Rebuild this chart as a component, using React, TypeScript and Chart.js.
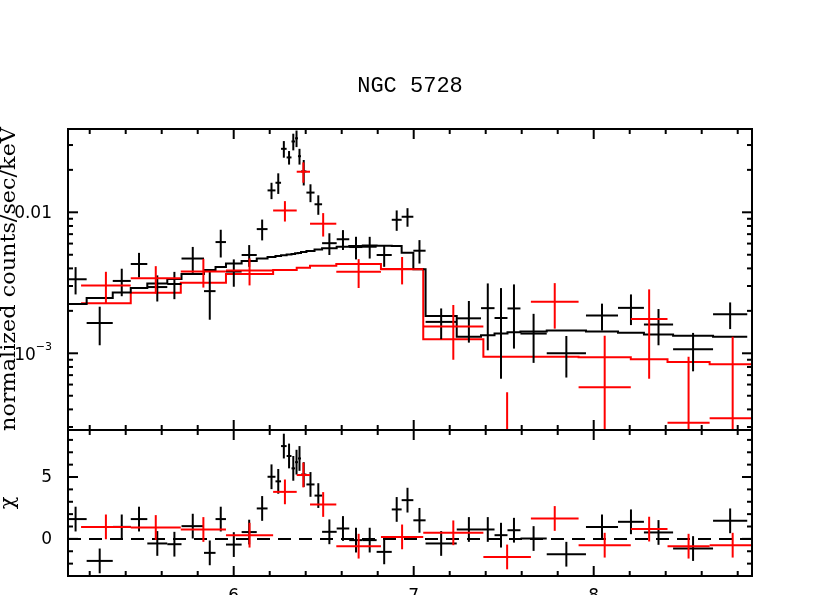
import React, { useEffect, useRef } from "react";
import { Chart, registerables } from "chart.js";
Chart.register(...registerables);

// ---------- text ----------
const TITLE = "NGC 5728";
const Y_TITLE = "normalized counts/sec/keV";
const CHI_TITLE = "χ";

// ---------- axes ----------
const X_RANGE = [5.0794, 8.8794]; // keV
const RATE_RANGE = [2.857e-4, 0.03898]; // counts/sec/keV (log)
const CHI_RANGE = [-3.0, 8.8];
const X_LABELS = [6, 7, 8];
const X_MINOR_STEP = 0.2;
const RATE_LABELS = [0.01, 0.001];
const CHI_LABELS = [0, 5];
const CHI_MINOR_STEP = 1;

// ---------- black spectrum ----------
const blackEdges = [5.06, 5.183, 5.328, 5.428, 5.52, 5.631, 5.71, 5.835, 5.899, 5.957, 6.044, 6.128, 6.188, 6.232, 6.263, 6.294, 6.321, 6.341, 6.357, 6.374, 6.404, 6.449, 6.491, 6.572, 6.642, 6.717, 6.794, 6.878, 6.933, 6.998, 7.066, 7.239, 7.374, 7.449, 7.521, 7.593, 7.739, 7.957, 8.135, 8.279, 8.441, 8.663, 8.853];
const blackRate = [3.35e-3, 1.64e-3, 3.26e-3, 4.3e-3, 2.95e-3, 3.1e-3, 4.7e-3, 2.76e-3, 6.15e-3, 3.8e-3, 4.98e-3, 7.6e-3, 0.0143, 0.0162, 0.0282, 0.0245, 0.0318, 0.0335, 0.025, 0.0195, 0.0138, 0.0114, 6.04e-3, 6.44e-3, 5.67e-3, 5.7e-3, 4.98e-3, 8.85e-3, 9.3e-3, 5.34e-3, 1.67e-3, 1.77e-3, 2.09e-3, 1.78e-3, 2.08e-3, 1.38e-3, 1.0e-3, 1.85e-3, 2.1e-3, 1.6e-3, 1.07e-3, 1.89e-3];
const blackErr = [0.735e-3, 0.5e-3, 0.72e-3, 0.855e-3, 0.62e-3, 0.68e-3, 0.98e-3, 1.03e-3, 1.37e-3, 0.835e-3, 0.875e-3, 1.28e-3, 1.9e-3, 2.7e-3, 3.8e-3, 2.7e-3, 4.3e-3, 4.5e-3, 3.2e-3, 4.0e-3, 2.0e-3, 1.8e-3, 1.06e-3, 1.035e-3, 1.035e-3, 1.0e-3, 0.875e-3, 1.46e-3, 1.4e-3, 1.01e-3, 0.41e-3, 0.58e-3, 1.04e-3, 1.12e-3, 1.0e-3, 0.525e-3, 0.327e-3, 0.4e-3, 0.515e-3, 0.46e-3, 0.325e-3, 0.405e-3];
const blackModel = [2.24e-3, 2.47e-3, 2.7e-3, 2.9e-3, 3.13e-3, 3.37e-3, 3.65e-3, 3.9e-3, 4.09e-3, 4.34e-3, 4.52e-3, 4.7e-3, 4.82e-3, 4.9e-3, 4.95e-3, 5.01e-3, 5.06e-3, 5.12e-3, 5.14e-3, 5.23e-3, 5.32e-3, 5.45e-3, 5.56e-3, 5.7e-3, 5.77e-3, 5.82e-3, 5.78e-3, 5.77e-3, 5.17e-3, 3.94e-3, 1.84e-3, 1.31e-3, 1.34e-3, 1.38e-3, 1.41e-3, 1.43e-3, 1.45e-3, 1.43e-3, 1.4e-3, 1.36e-3, 1.33e-3, 1.31e-3];
const blackChi = [1.6, -1.78, 0.97, 1.6, -0.37, -0.43, 1.03, -1.13, 1.6, -0.46, 0.55, 2.46, 5.02, 4.65, 7.5, 6.7, 5.7, 6.2, 6.5, 5.2, 4.4, 3.5, 0.57, 0.84, -0.1, -0.1, -1.05, 2.38, 3.13, 1.5, -0.37, 0.76, 0.76, 0.3, 0.7, 0.03, -1.24, 0.97, 1.38, 0.52, -0.78, 1.46];

// ---------- red spectrum ----------
const redEdges = [5.152, 5.428, 5.706, 5.957, 6.219, 6.35, 6.424, 6.57, 6.818, 7.053, 7.387, 7.651, 7.916, 8.206, 8.41, 8.644, 8.9];
const redRate = [3.02e-3, 3.4e-3, 3.8e-3, 3.87e-3, 0.0103, 0.0194, 8.3e-3, 3.78e-3, 3.95e-3, 1.55e-3, -3.7e-4, 2.32e-3, 5.74e-4, 1.75e-3, 3.22e-4, 3.46e-4];
const redErr = [0.765e-3, 0.75e-3, 0.875e-3, 0.84e-3, 1.7e-3, 3.2e-3, 1.57e-3, 0.875e-3, 0.87e-3, 0.65e-3, 9.0e-4, 0.825e-3, 7.56e-4, 1.09e-3, 6.24e-4, 9.65e-4];
const redModel = [2.26e-3, 2.69e-3, 3.17e-3, 3.65e-3, 3.9e-3, 4.05e-3, 4.18e-3, 4.3e-3, 3.96e-3, 1.26e-3, 9.46e-4, 9.46e-4, 9.37e-4, 9.06e-4, 8.68e-4, 8.36e-4];
const redChi = [0.97, 0.92, 0.76, 0.3, 3.8, 5.16, 2.78, -0.59, 0.16, 0.49, -1.46, 1.65, -0.51, 0.79, -0.59, -0.51];

const BLACK = "#000000";
const RED = "#ff0000";
const TICK_FONT = "17px 'DejaVu Sans'";

function stepPoints(edges: number[], values: number[]) {
  const pts = values.map((v, i) => ({ x: edges[i], y: v }));
  pts.push({ x: edges[edges.length - 1], y: values[values.length - 1] });
  return pts;
}

function seg(ctx: CanvasRenderingContext2D, x1: number, y1: number, x2: number, y2: number) {
  ctx.beginPath();
  ctx.moveTo(x1, y1);
  ctx.lineTo(x2, y2);
  ctx.stroke();
}

function drawCrosses(chart: any, edges: number[], center: number[], err: number[], color: string, floor: number | null) {
  const { ctx, chartArea: a, scales } = chart;
  const xs = scales.x;
  const ys = scales.y;
  const safe = (v: number) => (floor !== null ? Math.max(v, floor) : v);
  ctx.save();
  ctx.beginPath();
  ctx.rect(a.left, a.top, a.right - a.left, a.bottom - a.top);
  ctx.clip();
  ctx.strokeStyle = color;
  ctx.lineWidth = 2;
  ctx.lineCap = "butt";
  center.forEach((c, i) => {
    const lo = edges[i];
    const hi = edges[i + 1];
    const xl = xs.getPixelForValue(lo);
    const xh = xs.getPixelForValue(hi);
    const xm = xs.getPixelForValue((lo + hi) / 2);
    const e = err[i];
    const yc = ys.getPixelForValue(safe(c));
    const yTop = ys.getPixelForValue(safe(c + e));
    const yBot = ys.getPixelForValue(safe(c - e));
    seg(ctx, xl, yc, xh, yc);
    seg(ctx, xm, yTop, xm, yBot);
  });
  ctx.restore();
}

function drawFrame(chart: any, yTicks: { v: number; major: boolean }[]) {
  const { ctx, chartArea: a, scales } = chart;
  const xs = scales.x;
  const ys = scales.y;
  ctx.save();
  ctx.strokeStyle = BLACK;
  ctx.lineWidth = 2;
  ctx.lineCap = "butt";
  ctx.strokeRect(a.left, a.top, a.right - a.left, a.bottom - a.top);
  const start = Math.ceil(X_RANGE[0] / X_MINOR_STEP - 1e-9);
  for (let k = start; k * X_MINOR_STEP <= X_RANGE[1] + 1e-9; k++) {
    const v = +(k * X_MINOR_STEP).toFixed(6);
    const major = X_LABELS.some((m) => Math.abs(m - v) < 1e-6);
    const len = major ? 10 : 5;
    const px = xs.getPixelForValue(v);
    seg(ctx, px, a.top, px, a.top + len);
    seg(ctx, px, a.bottom, px, a.bottom - len);
  }
  yTicks.forEach((t) => {
    const py = ys.getPixelForValue(t.v);
    if (py < a.top - 0.5 || py > a.bottom + 0.5) return;
    const len = t.major ? 10 : 5;
    seg(ctx, a.left, py, a.left + len, py);
    seg(ctx, a.right, py, a.right - len, py);
  });
  ctx.restore();
}

function rateTicks() {
  const out: { v: number; major: boolean }[] = [];
  for (let ex = -4; ex <= -1; ex++) {
    for (let m = 1; m <= 9; m++) {
      const v = m * Math.pow(10, ex);
      if (v >= RATE_RANGE[0] && v <= RATE_RANGE[1]) out.push({ v, major: m === 1 });
    }
  }
  return out;
}

function chiTicks() {
  const out: { v: number; major: boolean }[] = [];
  for (let v = Math.ceil(CHI_RANGE[0]); v <= CHI_RANGE[1]; v += CHI_MINOR_STEP) {
    out.push({ v, major: CHI_LABELS.includes(v) });
  }
  return out;
}

const topDecor = {
  id: "topDecor",
  afterDatasetsDraw(chart: any) {
    drawCrosses(chart, blackEdges, blackRate, blackErr, BLACK, RATE_RANGE[0] * 0.01);
    drawCrosses(chart, redEdges, redRate, redErr, RED, RATE_RANGE[0] * 0.01);
  },
  afterDraw(chart: any) {
    const { ctx, chartArea: a, scales } = chart;
    drawFrame(chart, rateTicks());
    ctx.save();
    ctx.fillStyle = BLACK;
    // title
    ctx.font = "22px 'Liberation Mono'";
    ctx.textAlign = "center";
    ctx.textBaseline = "alphabetic";
    ctx.fillText(TITLE, (a.left + a.right) / 2, 92);
    // y tick labels
    const ys = scales.y;
    const labelRight = a.left - 16;
    RATE_LABELS.forEach((v) => {
      const py = ys.getPixelForValue(v);
      const ex = Math.round(Math.log10(v));
      if (v >= 0.01) {
        ctx.font = TICK_FONT;
        ctx.textAlign = "right";
        ctx.textBaseline = "middle";
        ctx.fillText(String(v), labelRight, py + 1);
      } else {
        const sup = "\u2212" + String(-ex);
        ctx.font = "11px 'DejaVu Sans'";
        const wSup = ctx.measureText(sup).width;
        ctx.textAlign = "left";
        ctx.textBaseline = "alphabetic";
        ctx.fillText(sup, labelRight - wSup, py - 3);
        ctx.font = TICK_FONT;
        ctx.textAlign = "right";
        ctx.fillText("10", labelRight - wSup, py + 7);
      }
    });
    // y title
    ctx.font = "21px 'DejaVu Serif'";
    const w = ctx.measureText(Y_TITLE).width;
    ctx.translate(15, 279);
    ctx.rotate(-Math.PI / 2);
    ctx.scale(304 / w, 1);
    ctx.textAlign = "center";
    ctx.textBaseline = "alphabetic";
    ctx.fillText(Y_TITLE, 0, 0);
    ctx.restore();
  },
};

const bottomDecor = {
  id: "bottomDecor",
  afterDatasetsDraw(chart: any) {
    const ones = blackChi.map(() => 1);
    const onesR = redChi.map(() => 1);
    drawCrosses(chart, blackEdges, blackChi, ones, BLACK, null);
    drawCrosses(chart, redEdges, redChi, onesR, RED, null);
  },
  afterDraw(chart: any) {
    const { ctx, chartArea: a, scales } = chart;
    drawFrame(chart, chiTicks());
    ctx.save();
    ctx.fillStyle = BLACK;
    ctx.font = TICK_FONT;
    ctx.textAlign = "right";
    ctx.textBaseline = "middle";
    CHI_LABELS.forEach((v) => {
      ctx.fillText(String(v), a.left - 16, scales.y.getPixelForValue(v) + 1);
    });
    ctx.textAlign = "center";
    ctx.textBaseline = "alphabetic";
    X_LABELS.forEach((v) => {
      ctx.fillText(String(v), scales.x.getPixelForValue(v), a.bottom + 24.5);
    });
    ctx.font = "21px 'DejaVu Serif'";
    ctx.translate(14, 83);
    ctx.rotate(-Math.PI / 2);
    ctx.textAlign = "center";
    ctx.fillText(CHI_TITLE, 0, 0);
    ctx.restore();
  },
};

const commonPlugins = {
  legend: { display: false },
  tooltip: { enabled: false },
  title: { display: false },
};

export default function App() {
  const topRef = useRef<HTMLCanvasElement>(null);
  const botRef = useRef<HTMLCanvasElement>(null);

  useEffect(() => {
    const top = new Chart(topRef.current as HTMLCanvasElement, {
      type: "line",
      data: {
        datasets: [
          {
            data: stepPoints(blackEdges, blackModel),
            stepped: "before",
            borderColor: BLACK,
            borderWidth: 2,
            pointRadius: 0,
            fill: false,
          } as any,
          {
            data: stepPoints(redEdges, redModel),
            stepped: "before",
            borderColor: RED,
            borderWidth: 2,
            pointRadius: 0,
            fill: false,
          } as any,
        ],
      },
      options: {
        responsive: false,
        devicePixelRatio: 1,
        animation: false,
        events: [],
        layout: { padding: { left: 68, right: 78, top: 129, bottom: 10 } },
        scales: {
          x: { type: "linear", min: X_RANGE[0], max: X_RANGE[1], bounds: "data", display: false },
          y: { type: "logarithmic", min: RATE_RANGE[0], max: RATE_RANGE[1], display: false },
        },
        plugins: commonPlugins as any,
      },
      plugins: [topDecor],
    });

    const bot = new Chart(botRef.current as HTMLCanvasElement, {
      type: "line",
      data: {
        datasets: [
          {
            data: [
              { x: X_RANGE[0], y: 0 },
              { x: X_RANGE[1], y: 0 },
            ],
            borderColor: BLACK,
            borderWidth: 2,
            borderDash: [13, 8],
            pointRadius: 0,
            fill: false,
          } as any,
        ],
      },
      options: {
        responsive: false,
        devicePixelRatio: 1,
        animation: false,
        events: [],
        layout: { padding: { left: 68, right: 78, top: 10, bottom: 44 } },
        scales: {
          x: { type: "linear", min: X_RANGE[0], max: X_RANGE[1], bounds: "data", display: false },
          y: { type: "linear", min: CHI_RANGE[0], max: CHI_RANGE[1], bounds: "data", display: false },
        },
        plugins: commonPlugins as any,
      },
      plugins: [bottomDecor],
    });

    return () => {
      top.destroy();
      bot.destroy();
    };
  }, []);

  return (
    <div style={{ position: "absolute", left: 0, top: 0, width: 830, height: 595, overflow: "hidden", background: "#ffffff" }}>
      <canvas ref={topRef} width={830} height={440} style={{ position: "absolute", left: 0, top: 0, width: 830, height: 440 }} />
      <canvas ref={botRef} width={830} height={200} style={{ position: "absolute", left: 0, top: 420, width: 830, height: 200 }} />
    </div>
  );
}
